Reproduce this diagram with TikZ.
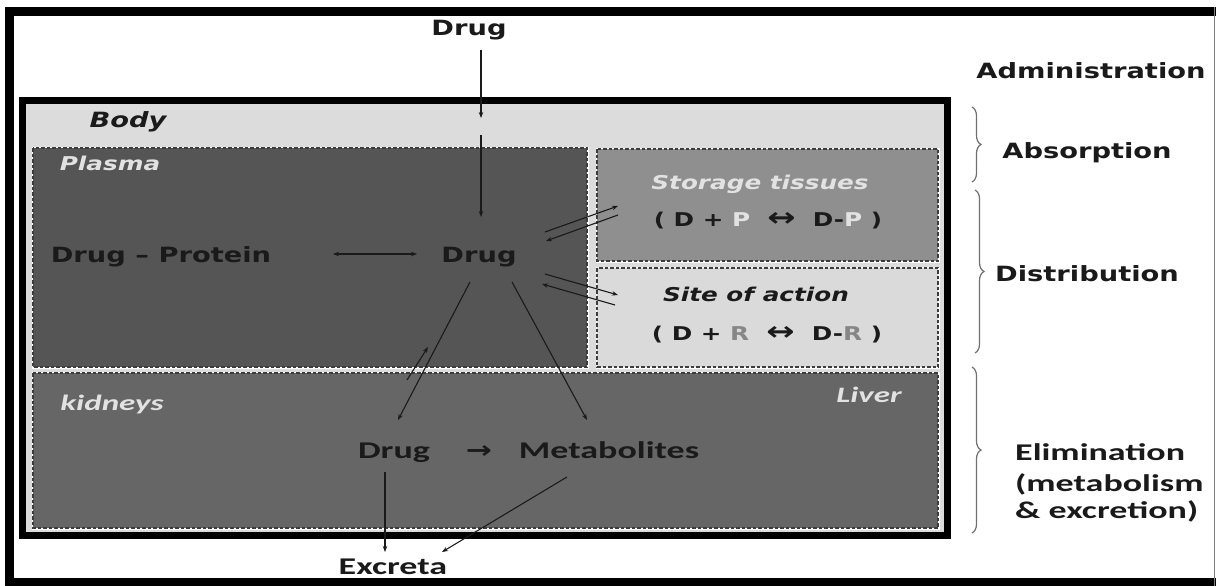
\documentclass[tikz,border=0pt]{standalone}
\usepackage{fontspec}
\usetikzlibrary{arrows.meta,decorations.pathreplacing}
\newfontfamily\wfont[FakeStretch=1.3]{DejaVu Sans}
\newfontfamily\cfont[FakeStretch=1.5]{Carlito}
\definecolor{bodybg}{HTML}{DCDCDC}
\definecolor{plasmabg}{HTML}{555555}
\definecolor{liverbg}{HTML}{666666}
\definecolor{storebg}{HTML}{8F8F8F}
\definecolor{sitebg}{HTML}{DADADA}
\definecolor{ink}{HTML}{1A1A1A}
\definecolor{pale}{HTML}{E2E2E2}
\definecolor{rgray}{HTML}{868686}
\definecolor{bracegray}{HTML}{707070}
\definecolor{dashc}{HTML}{3C3C3C}
\newcommand{\bigarrowlr}{{\fontsize{26}{26}\selectfont ↔}}
\begin{document}
\begin{tikzpicture}[x=1pt,y=-1pt,
  wl/.style={font=\wfont\bfseries\fontsize{21}{24}\selectfont, text=ink, inner sep=0pt, anchor=base},
  wi/.style={font=\wfont\bfseries\itshape\fontsize{19}{22}\selectfont, text=ink, inner sep=0pt, anchor=base},
  ws/.style={font=\wfont\bfseries\fontsize{19}{22}\selectfont, text=ink, inner sep=0pt, anchor=base},
  cl/.style={font=\cfont\bfseries\fontsize{24}{28}\selectfont, text=ink, inner sep=0pt, anchor=base},
  ci/.style={font=\cfont\bfseries\itshape\fontsize{22}{26}\selectfont, text=pale, inner sep=0pt, anchor=base},
  comp/.style={preaction={draw=white, line width=3pt}, draw=dashc, line width=1.2pt, dash pattern=on 3.5pt off 2pt},
  conn/.style={draw=ink, line width=1.1pt, -{Stealth[length=6pt,width=4.5pt]}},
  brc/.style={draw=bracegray, line width=1.2pt, decorate, decoration={brace, amplitude=9pt}}
]
\useasboundingbox (0,0) rectangle (1216,586);
\fill[white] (0,0) rectangle (1216,586);
% outer frame
\draw[line width=9pt] (1222,11.5) -- (9.5,11.5) -- (9.5,582.5) -- (1222,582.5);
\draw[gray, line width=1pt] (1214,7) -- (1214,586);
% body
\fill[bodybg] (22.5,100.5) rectangle (947.5,535);
\draw[line width=7pt] (22.5,100.5) rectangle (947.5,535);
% compartments
\draw[comp, fill=plasmabg] (33,148) rectangle (587,367);
\draw[comp, fill=storebg] (597,149) rectangle (938,261);
\draw[comp, fill=sitebg] (597,268) rectangle (938,367);
\draw[comp, fill=liverbg] (33,373) rectangle (938,528);
% texts
\node[wl] (topdrug) at (469,36) {Drug};
\node[wl] (admin) at (1091,78) {Administration};
\node[wl, font=\wfont\bfseries\itshape\fontsize{21}{24}\selectfont] (body) at (128,128) {Body};
\node[wl] (absorp) at (1087,158) {Absorption};
\node[wi, text=pale] (plasma) at (110,170) {Plasma};
\node[wi, text=pale] (storage) at (760,189) {Storage tissues};
\node[ws] (dp) at (768,226) {(~D + \textcolor{pale}{P} ~\bigarrowlr~ D-\textcolor{pale}{P}~)};
\node[wl] (drugprot) at (161,262) {Drug – Protein};
\node[wl] (mdrug) at (479,262) {Drug};
\node[wl] (distr) at (1087,281) {Distribution};
\node[wi] (site) at (756,301) {Site of action};
\node[ws] (dr) at (767,340) {(~D + \textcolor{rgray}{R} ~\bigarrowlr~ D-\textcolor{rgray}{R}~)};
\node[ci] (liver) at (869,402) {Liver};
\node[ci] (kidneys) at (112,410) {kidneys};
\node[cl] (ldrug) at (394,458) {Drug};
\node[ws, font=\wfont\bfseries\fontsize{24}{26}\selectfont] (larrow) at (479,458) {→};
\node[cl] (metab) at (609,458) {Metabolites};
\node[cl, anchor=base west] (elimA) at (1015,460) {Elimination};
\node[cl, anchor=base west] (elimB) at (1015,491) {(metabolism};
\node[cl, anchor=base west] (elimC) at (1015,518) {\& excretion)};
\node[cl] (excreta) at (393,574) {Excreta};
% braces
\draw[brc] (972,107) -- (972,182);
\draw[brc] (975,190) -- (975,353);
\draw[brc] (972,367) -- (972,533);
% connector end points
\coordinate (a1s) at (481,50);   \coordinate (a1e) at (481,118);
\coordinate (a2s) at (481,135);  \coordinate (a2e) at (481,217);
\coordinate (dpL) at (333,254);  \coordinate (dpR) at (417,254);
\coordinate (s1s) at (545,232);  \coordinate (s1e) at (618,206);
\coordinate (s2s) at (618,215);  \coordinate (s2e) at (546,241);
\coordinate (t1s) at (545,274);  \coordinate (t1e) at (618,295);
\coordinate (t2s) at (615,305);  \coordinate (t2e) at (542,284);
\coordinate (k1s) at (470,282);  \coordinate (k1e) at (398,420);
\coordinate (m1s) at (512,282);  \coordinate (m1e) at (587,420);
\coordinate (u1s) at (407,380);  \coordinate (u1e) at (428,347);
\coordinate (x1s) at (385,472);  \coordinate (x1e) at (385,552);
\coordinate (x2s) at (567,477);  \coordinate (x2e) at (442,552);
% connectors
\draw[conn] (a1s) -- (a1e);
\draw[conn] (a2s) -- (a2e);
\draw[conn, {Stealth[length=6pt,width=4.5pt]}-{Stealth[length=6pt,width=4.5pt]}] (dpL) -- (dpR);
\draw[conn] (s1s) -- (s1e);
\draw[conn] (s2s) -- (s2e);
\draw[conn] (t1s) -- (t1e);
\draw[conn] (t2s) -- (t2e);
\draw[conn] (k1s) -- (k1e);
\draw[conn] (m1s) -- (m1e);
\draw[conn] (u1s) -- (u1e);
\draw[conn] (x1s) -- (x1e);
\draw[conn] (x2s) -- (x2e);
\end{tikzpicture}
\end{document}
